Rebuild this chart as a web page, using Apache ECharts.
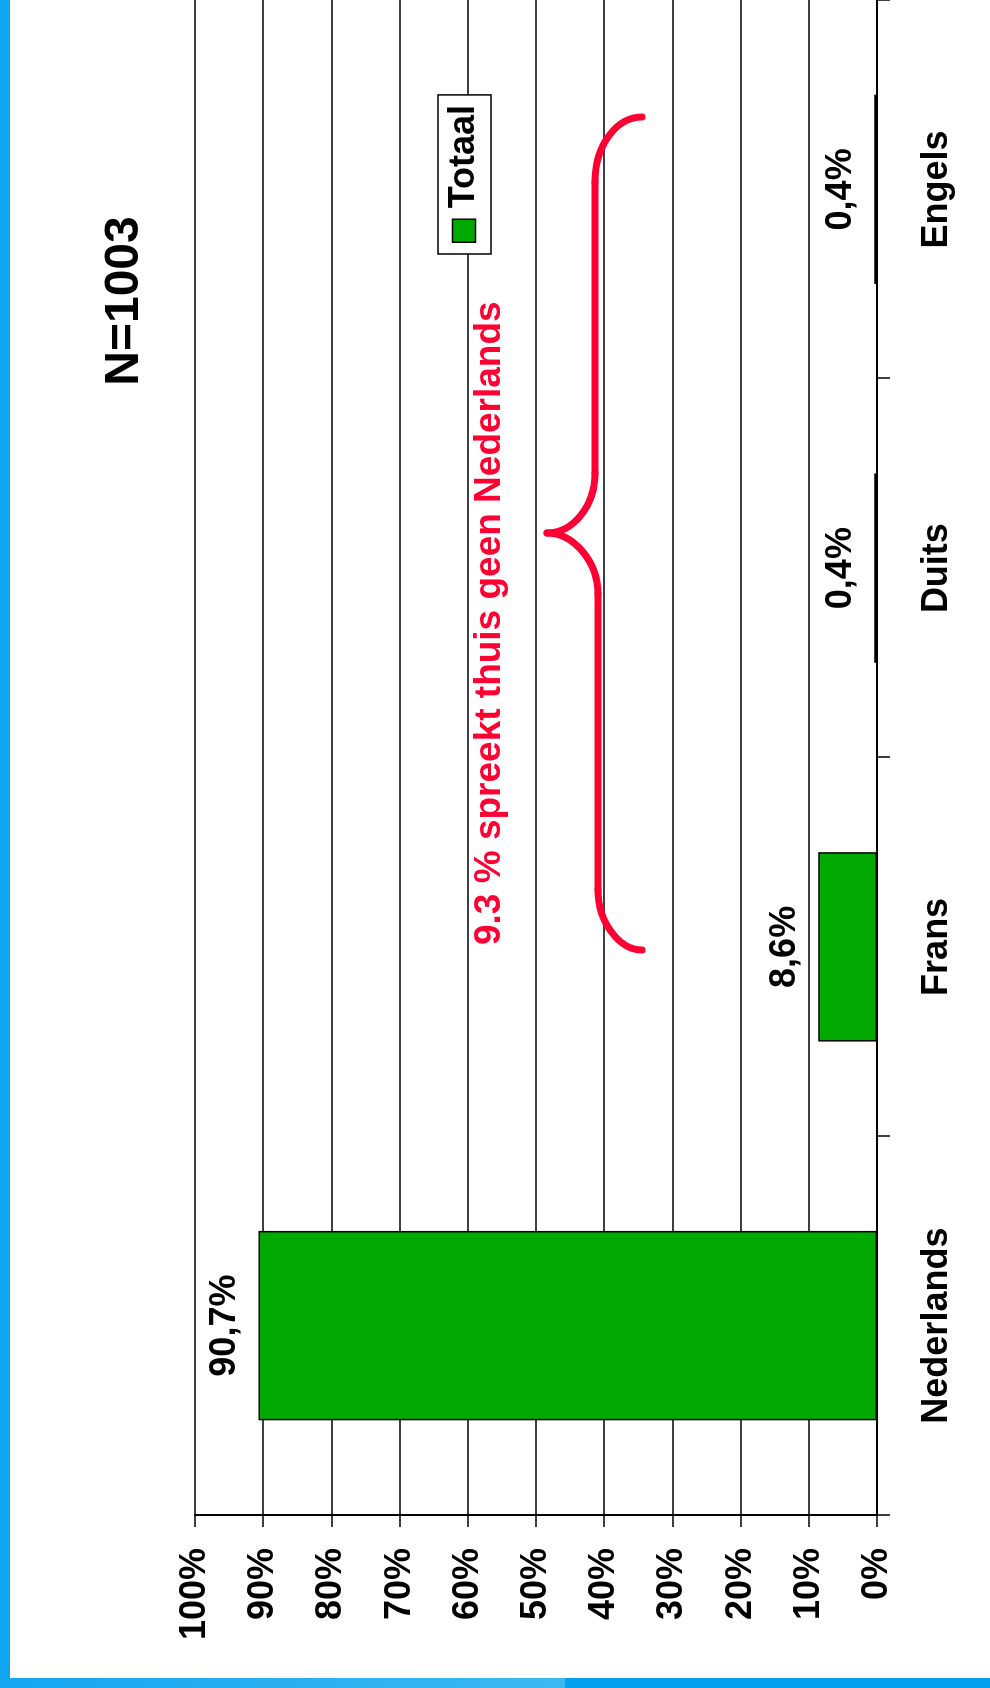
<!DOCTYPE html>
<html><head><meta charset="utf-8">
<script src="https://cdn.jsdelivr.net/npm/echarts@6/dist/echarts.min.js"></script>
<style>
html,body{margin:0;padding:0;width:990px;height:1688px;overflow:hidden;background:#fff}
#chart{position:absolute;left:0;top:0;width:1688px;height:990px;transform-origin:0 0;transform:translate(0,1688px) rotate(-90deg);background:#fff}
</style></head><body><div id="chart"></div>
<script>
// ---- data ----
const categories = ['Nederlands', 'Frans', 'Duits', 'Engels'];
const totaal = [90.7, 8.6, 0.4, 0.4];
const seriesName = 'Totaal';
const titleText = 'N=1003';
const noteText = '9.3 % spreekt thuis geen Nederlands';
const valueMin = 0, valueMax = 100, valueStep = 10;

const ARIAL = 'Liberation Sans';
const red = '#FF0033';

const chart = echarts.init(document.getElementById('chart'), null, {renderer: 'canvas'});

const braceStyle = {stroke: red, lineWidth: 7, fill: null, lineCap: 'round'};

const option = {
  backgroundColor: '#ffffff',
  animation: false,
  title: {
    text: titleText,
    left: 1387, top: 101, padding: 0, textAlign: 'center',
    textStyle: {fontFamily: ARIAL, fontWeight: 'bold', fontSize: 48, color: '#000'}
  },
  legend: {
    data: [seriesName],
    left: 1434, top: 438,
    padding: [8, 10, 9, 11],
    backgroundColor: '#fff', borderColor: '#000', borderWidth: 1.5, borderRadius: 0,
    icon: 'rect', itemWidth: 23, itemHeight: 23,
    itemStyle: {color: '#00AA00', borderColor: '#000', borderWidth: 1.5},
    textStyle: {fontFamily: ARIAL, fontWeight: 'bold', fontSize: 36, color: '#000', padding: [0, 0, 0, 6]}
  },
  grid: {left: 173, right: 0, top: 195, bottom: 113, containLabel: false},
  xAxis: {
    type: 'category',
    data: categories,
    axisLine: {lineStyle: {color: '#000', width: 2}},
    axisTick: {show: true, length: 13, lineStyle: {color: '#000', width: 1.5}},
    axisLabel: {margin: 42, fontFamily: ARIAL, fontWeight: 'bold', fontSize: 36, color: '#000'},
    splitLine: {show: false}
  },
  yAxis: {
    type: 'value',
    min: valueMin, max: valueMax, interval: valueStep,
    axisLine: {show: true, lineStyle: {color: '#000', width: 2}},
    axisTick: {show: true, length: 12, lineStyle: {color: '#000', width: 1.5}},
    axisLabel: {margin: 33, formatter: '{value}%', fontFamily: ARIAL, fontWeight: 'bold', fontSize: 36, color: '#000'},
    splitLine: {show: true, lineStyle: {color: '#000', width: 1.5}}
  },
  series: [{
    name: seriesName,
    type: 'bar',
    data: totaal,
    barWidth: '50%',
    itemStyle: {color: '#00AA00', borderColor: '#000', borderWidth: 1.5},
    label: {
      show: true, position: 'top', distance: 15,
      formatter: p => String(p.value).replace('.', ',') + '%',
      fontFamily: ARIAL, fontWeight: 'bold', fontSize: 36, color: '#000'
    }
  }],
  graphic: [
    {type: 'rect', silent: true, z: -10, shape: {x: 0, y: 0, width: 1688, height: 10}, style: {fill: '#10A5F0'}},
    {type: 'rect', silent: true, z: -10, shape: {x: 0, y: 0, width: 10, height: 565},
      style: {fill: new echarts.graphic.LinearGradient(0, 0, 0, 1, [{offset: 0, color: '#14A6F0'}, {offset: 1, color: '#3BB8F3'}])}},
    {type: 'rect', silent: true, z: -10, shape: {x: 0, y: 565, width: 10, height: 425}, style: {fill: '#03A0EE'}},
    {
      type: 'group', silent: true, z: 100,
      children: [
        {type: 'bezierCurve', z: 100, shape: {x1: 1571, y1: 642, cpx1: 1571, cpy1: 616, cpx2: 1542, cpy2: 595, x2: 1506, y2: 595}, style: braceStyle},
        {type: 'line', z: 100, shape: {x1: 1506, y1: 595, x2: 1215, y2: 595}, style: braceStyle},
        {type: 'bezierCurve', z: 100, shape: {x1: 1215, y1: 595, cpx1: 1182, cpy1: 595, cpx2: 1155, cpy2: 573, x2: 1155, y2: 547}, style: braceStyle},
        {type: 'bezierCurve', z: 100, shape: {x1: 1155, y1: 547, cpx1: 1155, cpy1: 573, cpx2: 1127, cpy2: 598, x2: 1094, y2: 598}, style: braceStyle},
        {type: 'line', z: 100, shape: {x1: 1094, y1: 598, x2: 798, y2: 598}, style: braceStyle},
        {type: 'bezierCurve', z: 100, shape: {x1: 798, y1: 598, cpx1: 765, cpy1: 598, cpx2: 738, cpy2: 620, x2: 738, y2: 642}, style: braceStyle}
      ]
    },
    {
      type: 'text', silent: true, z: 100,
      x: 743, y: 490,
      style: {text: noteText, fill: red, font: 'bold 37px "Liberation Sans"', textAlign: 'left', textVerticalAlign: 'middle'}
    }
  ]
};
chart.setOption(option);
</script></body></html>
